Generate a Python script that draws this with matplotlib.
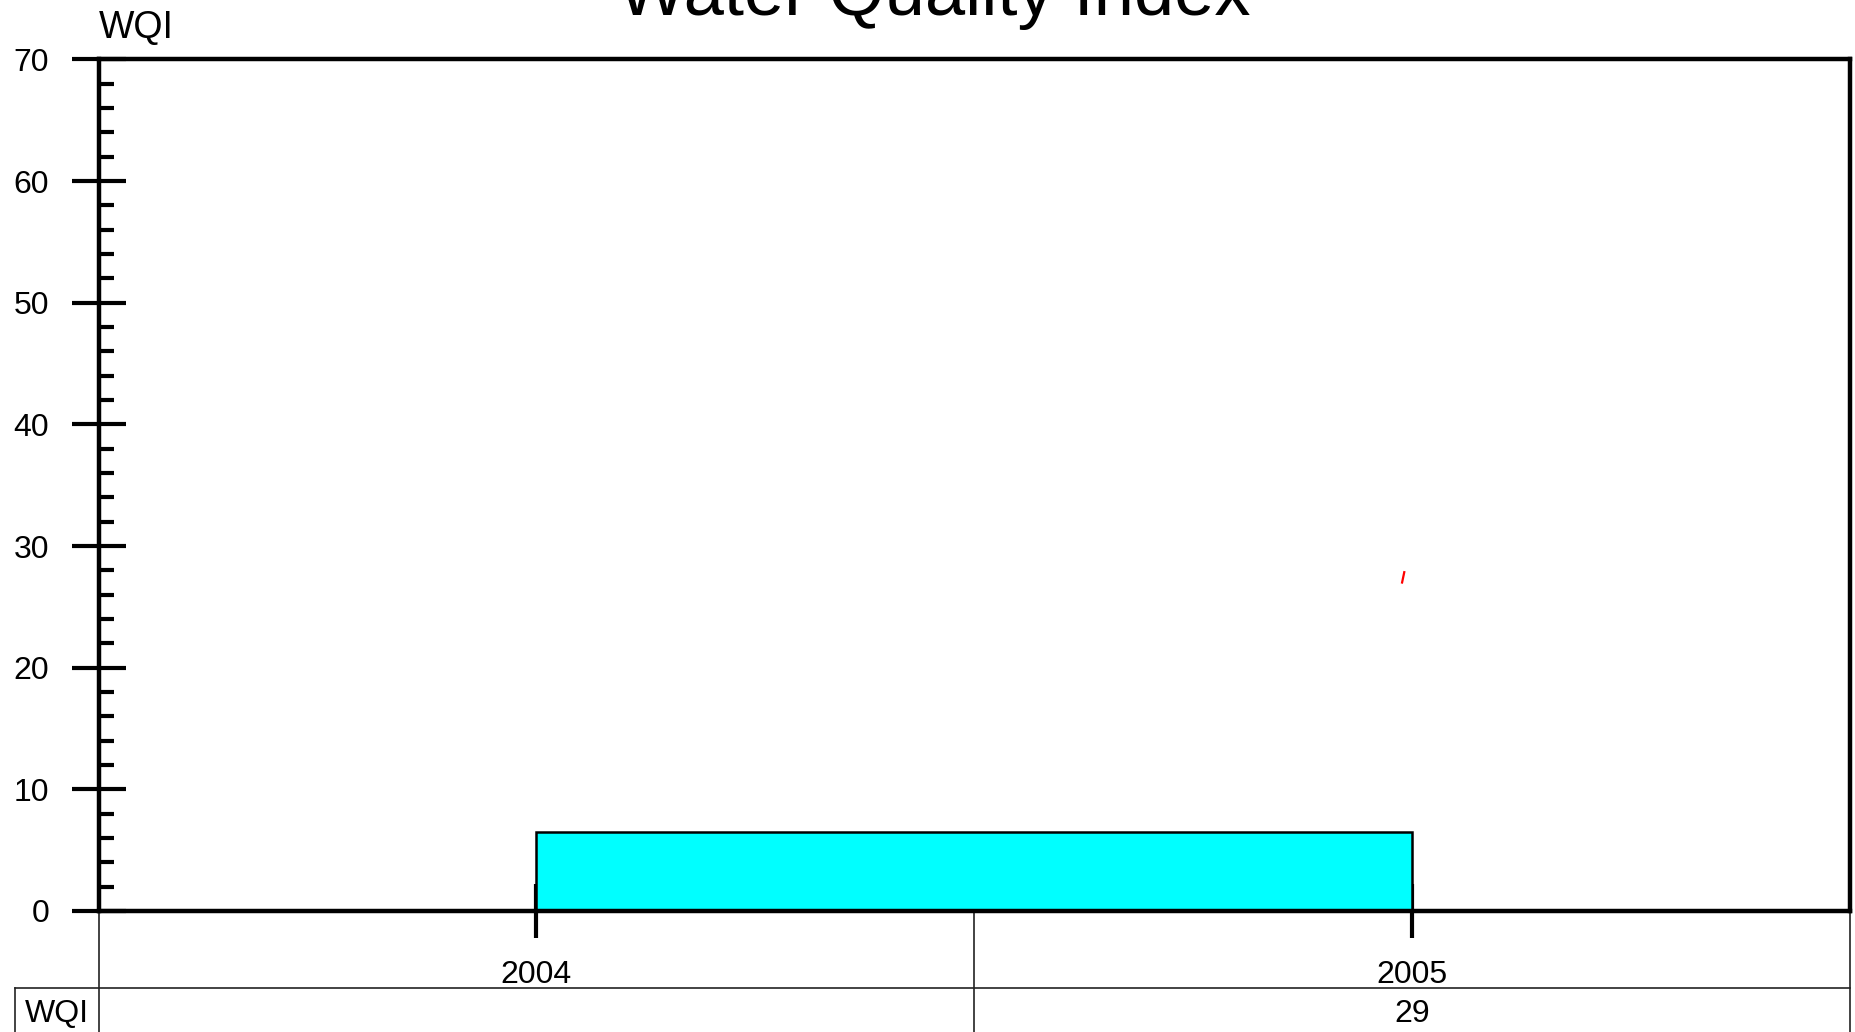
import matplotlib
matplotlib.use("Agg")
import matplotlib.pyplot as plt
import matplotlib.transforms as mtransforms
from matplotlib.ticker import MultipleLocator

plt.rcParams['font.family'] = ['Liberation Sans', 'DejaVu Sans']

# data
years = [2004, 2005]
bar_start = [2004]
bar_values = [6.5]
table_wqi = ['', '29']
red_x = [2004.9885, 2004.991]
red_y = [27.0, 27.85]

W, H = 1855, 1032
fig = plt.figure(figsize=(W / 100, H / 100), dpi=100)
ax = fig.add_axes([98.6 / W, 1 - 911 / H, (1850 - 98.6) / W, (911 - 59.4) / H])

ax.bar(bar_start, bar_values, width=1, align='edge', color='#00ffff',
       edgecolor='black', linewidth=1.8, zorder=2)
ax.plot(red_x, red_y, color='red', linewidth=1.6, zorder=3)

ax.set_xlim(2003.5, 2005.5)
ax.set_ylim(0, 70)

for s in ax.spines.values():
    s.set_linewidth(3.2)

ax.yaxis.set_major_locator(MultipleLocator(10))
ax.yaxis.set_minor_locator(MultipleLocator(2))
ax.tick_params(axis='y', which='major', direction='inout', length=39, width=3.0,
               labelsize=23, pad=16)
ax.tick_params(axis='y', which='minor', direction='in', length=11, width=3.0)
ax.set_xticks(years)
ax.tick_params(axis='x', which='major', direction='inout', length=39, width=3.0,
               labelbottom=False)

# title and axis label
fig.text(934 / W, 1 - 15 / H, 'Water Quality Index', ha='center', va='baseline',
         fontsize=52)
fig.text(98.6 / W, 1 - 38 / H, 'WQI', ha='left', va='baseline', fontsize=27)

# data table under the axis
trans = mtransforms.blended_transform_factory(ax.transData, ax.transAxes)
y_bot = -0.1421
y_mid = -0.0904
x_left = 2003.404
tcol = '#222222'
for xb in [2003.5, 2004.5, 2005.5]:
    ax.plot([xb, xb], [0, y_bot], transform=trans, color=tcol, lw=1.2, clip_on=False)
ax.plot([x_left, 2005.5], [y_mid, y_mid], transform=trans, color=tcol, lw=1.2, clip_on=False)
ax.plot([x_left, x_left], [y_mid, y_bot], transform=trans, color=tcol, lw=1.2, clip_on=False)

for yr, val in zip(years, table_wqi):
    ax.text(yr, -0.0845, str(yr), transform=trans, ha='center', va='baseline', fontsize=23)
    ax.text(yr, -0.1303, val, transform=trans, ha='center', va='baseline', fontsize=23)
ax.text((x_left + 2003.5) / 2, -0.1303, 'WQI', transform=trans, ha='center',
        va='baseline', fontsize=23)

fig.savefig('out.png', dpi=100)
